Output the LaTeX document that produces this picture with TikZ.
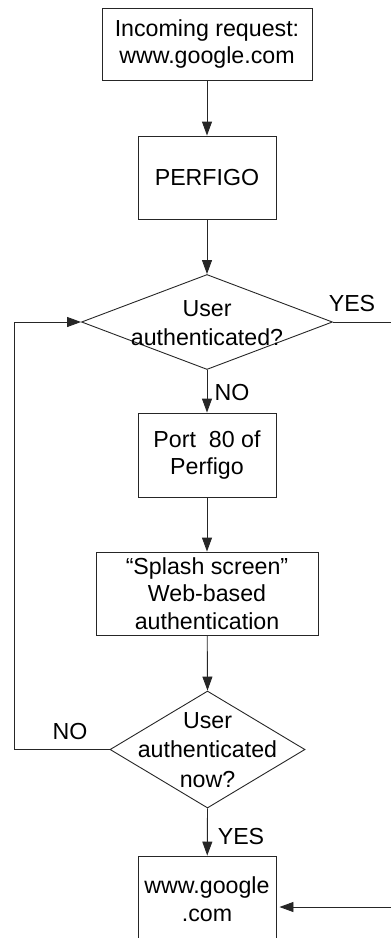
\documentclass[tikz,border=0pt]{standalone}
\usepackage{fontspec}
\setmainfont{Liberation Sans}
\usetikzlibrary{arrows.meta,shapes.geometric}
\tikzset{
  ln/.style={draw=black!85, line width=0.9pt},
  arr/.style={ln, -{Triangle[length=14pt,width=10pt]}},
  box/.style={ln, rectangle, inner sep=0pt, align=center, font=\fontsize{23.2}{27.8}\selectfont},
  dia/.style={ln, diamond, inner sep=0pt},
  txt/.style={align=center, inner sep=0pt, font=\fontsize{23.2}{29}\selectfont},
  lbl/.style={inner sep=0pt, font=\fontsize{23.2}{27.8}\selectfont}
}
\begin{document}
\begin{tikzpicture}[x=1pt,y=-1pt]
\useasboundingbox (0,0) rectangle (391,938);
\clip (0,0) rectangle (391,938);
\node[box, minimum width=210pt, minimum height=72pt] (req) at (207,44) {Incoming request:\\www.google.com};
\node[box, minimum width=138pt, minimum height=83pt] (perf) at (207,177.5) {PERFIGO};
\node[dia, minimum width=251pt, minimum height=95pt] (d1) at (207,322) {};
\node[txt] (d1t) at (207,323) {User\\authenticated?};
\node[box, minimum width=138pt, minimum height=84pt] (port) at (207,455) {Port\ \ 80 of\\Perfigo};
\node[box, minimum width=222pt, minimum height=83pt] (splash) at (207,593.5) {“Splash screen”\\Web-based\\authentication};
\node[dia, minimum width=195pt, minimum height=117pt] (d2) at (207.5,749.5) {};
\node[txt, font=\fontsize{23.2}{29.5}\selectfont] (d2t) at (207.5,750) {User\\authenticated\\now?};
\node[box, minimum width=138pt, minimum height=86pt] (goog) at (207,899) {www.google\\.com};

\node[lbl] (yes1) at (352,304) {YES};
\node[lbl] (no1) at (232,393) {NO};
\node[lbl] (no2) at (70,732) {NO};
\node[lbl] (yes2) at (241,837) {YES};

\coordinate (yesend) at (391,322);
\coordinate (lb) at (14,749.5);
\coordinate (lt) at (14,322);
\coordinate (rin) at (391,907);

\draw[arr] (req) -- (perf);
\draw[arr] (perf) -- (d1.north);
\draw[arr] (d1.south) -- (port);
\draw[arr] (port) -- (splash);
\draw[arr] (splash) -- (d2.north);
\draw[arr] (d2.south) -- (goog);
\draw[ln] (d1.east) -- (yesend);
\draw[arr] (d2.west) -- (lb) -- (lt) -- (d1.west);
\draw[arr, shorten >=3pt] (rin) -- (rin -| goog.east);
\end{tikzpicture}
\end{document}
